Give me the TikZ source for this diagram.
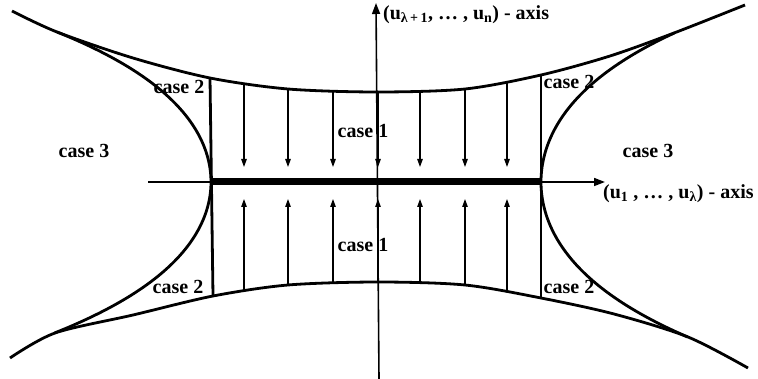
\documentclass[tikz,border=0pt]{standalone}
\usepackage{fontspec}
\setmainfont{Liberation Serif}
\usetikzlibrary{arrows.meta}

\begin{document}
\begin{tikzpicture}[x=1pt,y=-1pt,line join=round,
  font=\fontsize{20}{24}\selectfont\bfseries,
  bnd/.style={line width=2.8pt},
  axisline/.style={line width=1.6pt,-{Triangle[length=11pt,width=8pt]}},
  flow/.style={line width=1.2pt,-{Triangle[length=8pt,width=5.5pt]}},
  lbl/.style={inner sep=0pt}]
  \useasboundingbox (0,0) rectangle (758,379);

  % vertices and corners
  \coordinate (VL) at (211,182);
  \coordinate (VR) at (541,182);
  \coordinate (LT) at (210,78);
  \coordinate (LB) at (213,296);
  \coordinate (RT) at (541,75);
  \coordinate (RB) at (541,298);

  % axes
  \coordinate (H0) at (148,182);
  \coordinate (H1) at (605,182);
  \coordinate (V0) at (379,379);
  \coordinate (V1) at (376,3);
  \draw[axisline] (H0) -- (H1);
  \draw[axisline] (V0) -- (V1);
  \draw[line width=7pt] (VL) -- (VR);

  % upper and lower boundaries
  \draw[bnd] plot[smooth] coordinates {(12,11) (57,32) (133,58) (LT) (288,89)
    (377,92) (465,89) (RT) (610,56) (674,33) (745,5)};
  \draw[bnd] plot[smooth] coordinates {(10,358) (55,333) (133,315) (LB) (288,285)
    (378,282) (465,285) (RB) (614,314) (688,337) (748,368)};

  % hyperbolas
  \draw[bnd] plot[domain=-1.5:1.51,samples=60,smooth]
    ({211-54.1*\x*\x-6.37*\x*\x*\x*\x},{182+100*\x});
  \draw[bnd] plot[domain=-1.49:1.55,samples=60,smooth]
    ({541+47.6*\x*\x+5.6*\x*\x*\x*\x},{182+100*\x});

  % case 2 lines
  \draw[bnd] (LT) -- (LB);
  \draw[bnd] (RT) -- (RB);

  % flow arrows
  \foreach \x/\yt/\yb in {244/83/290,288/89/285,333/92/282,378/92/282,
                          420/92/282,465/89/285,507/83/290}{
    \draw[flow] (\x,\yt) -- (\x,167);
    \draw[flow] (\x,\yb) -- (\x,199);
  }

  % labels
  \node[lbl] (c1a) at (363,131) {case 1};
  \node[lbl] (c1b) at (363,245) {case 1};
  \node[lbl] (c2a) at (179,87) {case 2};
  \node[lbl] (c2b) at (178,287) {case 2};
  \node[lbl] (c2c) at (569,82) {case 2};
  \node[lbl] (c2d) at (569,287) {case 2};
  \node[lbl] (c3a) at (84,151) {case 3};
  \node[lbl] (c3b) at (648,151) {case 3};
  \node[lbl,anchor=west] (ax1) at (383,15)
    {(u\textsubscript{λ\,+\,1}, … , u\textsubscript{n}) - axis};
  \node[lbl,anchor=west] (ax2) at (603,194)
    {(u\textsubscript{1} , … , u\textsubscript{λ}) - axis};
\end{tikzpicture}
\end{document}
